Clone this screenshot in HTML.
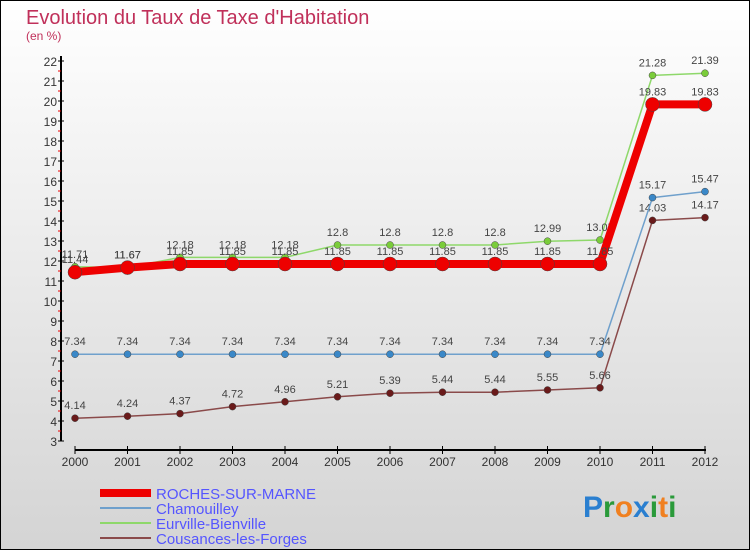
<!DOCTYPE html>
<html><head><meta charset="utf-8"><style>
body{margin:0}
svg text{font-family:"Liberation Sans",sans-serif}
</style></head><body>
<svg width="750" height="550" xmlns="http://www.w3.org/2000/svg">
<defs><linearGradient id="bg" x1="0" y1="0" x2="0" y2="1"><stop offset="0" stop-color="#ffffff"/><stop offset="1" stop-color="#d4d4d4"/></linearGradient></defs>
<rect x="0.5" y="0.5" width="749" height="549" fill="url(#bg)" stroke="#000"/>
<text x="26" y="24" font-size="20" fill="#c0305a">Evolution du Taux de Taxe d'Habitation</text>
<text x="26" y="40" font-size="12" fill="#c0305a">(en %)</text>
<g id="axes"></g>
<g id="series"></g>
<g>
<rect x="100" y="489" width="51" height="8" fill="#e00"/>
<text x="156" y="499" font-size="15" fill="#5555ff">ROCHES-SUR-MARNE</text>
<line x1="100" y1="508" x2="151" y2="508" stroke="#6fa0cc" stroke-width="2"/>
<text x="156" y="514" font-size="15" fill="#5555ff">Chamouilley</text>
<line x1="100" y1="523" x2="151" y2="523" stroke="#8ed86a" stroke-width="2"/>
<text x="156" y="529" font-size="15" fill="#5555ff">Eurville-Bienville</text>
<line x1="100" y1="538" x2="151" y2="538" stroke="#8a4a4a" stroke-width="2"/>
<text x="156" y="544" font-size="15" fill="#5555ff">Cousances-les-Forges</text>
</g>
<text x="583" y="517" font-size="30" font-weight="bold"><tspan fill="#2a7fd0">P</tspan><tspan fill="#2a9a3a">r</tspan><tspan fill="#f08020">o</tspan><tspan fill="#2a7fd0">x</tspan><tspan fill="#2a9a3a">i</tspan><tspan fill="#f08020">t</tspan><tspan fill="#2a9a3a">i</tspan></text>
</svg>
<script>
const years=[2000,2001,2002,2003,2004,2005,2006,2007,2008,2009,2010,2011,2012];
const yTicks=[3,4,5,6,7,8,9,10,11,12,13,14,15,16,17,18,19,20,21,22];
const roches=[11.44,11.67,11.85,11.85,11.85,11.85,11.85,11.85,11.85,11.85,11.85,19.83,19.83];
const chamouilley=[7.34,7.34,7.34,7.34,7.34,7.34,7.34,7.34,7.34,7.34,7.34,15.17,15.47];
const eurville=[11.71,11.67,12.18,12.18,12.18,12.8,12.8,12.8,12.8,12.99,13.05,21.28,21.39];
const cousances=[4.14,4.24,4.37,4.72,4.96,5.21,5.39,5.44,5.44,5.55,5.66,14.03,14.17];
const NS="http://www.w3.org/2000/svg";
const X=i=>75+i*52.5, Y=v=>61+(22-v)*20;
function mk(t,a,p){const e=document.createElementNS(NS,t);for(const k in a)e.setAttribute(k,a[k]);p.appendChild(e);return e;}
const ax=document.getElementById('axes');
mk('line',{x1:61,y1:56,x2:61,y2:441,stroke:'#000','stroke-width':2},ax);
mk('line',{x1:75,y1:450,x2:706,y2:450,stroke:'#000','stroke-width':2},ax);
yTicks.forEach(v=>{
 mk('line',{x1:58,y1:Y(v),x2:64,y2:Y(v),stroke:'#000'},ax);
 if(v<22)mk('line',{x1:58,y1:Y(v+0.5),x2:61,y2:Y(v+0.5),stroke:'#e00'},ax);
 const t=mk('text',{x:57,y:Y(v)+5,'font-size':12,fill:'#333','text-anchor':'end'},ax);
 
 
 t.textContent=v;
});
years.forEach((y,i)=>{
 mk('line',{x1:X(i),y1:446,x2:X(i),y2:454,stroke:'#000'},ax);
 const t=mk('text',{x:X(i),y:466,'font-size':12,fill:'#333','text-anchor':'middle'},ax);
 
 
 t.textContent=y;
});
const sg=document.getElementById('series');
function series(vals,color,w,r,name,dot){
 const g=mk('g',{},sg);
 
 
 mk('polyline',{points:vals.map((v,i)=>X(i)+','+Y(v)).join(' '),fill:'none',stroke:color,'stroke-width':w,'stroke-linejoin':'round'},g);
 vals.forEach((v,i)=>{
  const c=mk('circle',{cx:X(i),cy:Y(v),r:r,fill:dot,stroke:'#444','stroke-width':0.5},g);
  
  
  const t=mk('text',{x:X(i),y:Y(v)-9,'font-size':11,fill:'#444','text-anchor':'middle'},g);
  
  
  t.textContent=v;
 });
}
series(cousances,'#8a4a4a',1.5,3.5,'series-cousances','#6a1a1a');
series(chamouilley,'#6fa0cc',1.5,3.5,'series-chamouilley','#3a88c8');
series(eurville,'#8ed86a',1.5,3.5,'series-eurville','#7acc3a');
series(roches,'#e00',8,7,'series-roches','#e00');
</script>
</body></html>
